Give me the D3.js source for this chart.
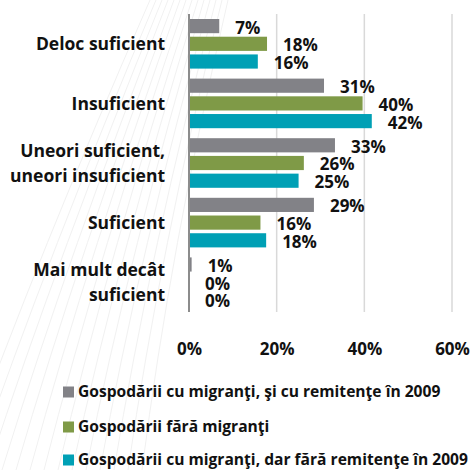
<!DOCTYPE html>
<html><head><meta charset="utf-8">
<script src="https://cdn.jsdelivr.net/npm/d3@7"></script>
<style>
html,body{margin:0;padding:0;background:#fff;}
svg text{font-family:"Open Sans",Lato,sans-serif;font-weight:bold;fill:#111;}
</style></head>
<body>
<svg id="chart" width="471" height="470"></svg>
<script>
const categories = [["Deloc suficient"],["Insuficient"],["Uneori suficient,","uneori insuficient"],["Suficient"],["Mai mult decât","suficient"]];
const seriesNames = ["Gospodării cu migranţi, şi cu remitenţe în 2009","Gospodării fără migranţi","Gospodării cu migranţi, dar fără remitenţe în 2009"];
const withRemit = [6.9, 30.8, 33.3, 28.5, 0.6];
const noMigrants = [17.8, 39.6, 26.2, 16.3, 0];
const noRemit = [15.7, 41.7, 25.0, 17.6, 0];
const labelsWithRemit = ["7%","31%","33%","29%","1%"];
const labelsNoMigrants = ["18%","40%","26%","16%","0%"];
const labelsNoRemit = ["16%","42%","25%","18%","0%"];
const ticks = [0, 0.2, 0.4, 0.6];
const colors = ["#828287","#7f9a47","#00a0b5"];

const series = [withRemit, noMigrants, noRemit];
const seriesLabels = [labelsWithRemit, labelsNoMigrants, labelsNoRemit];

const svg = d3.select("#chart");

// faint decorative background lines
const bg = svg.append("g");
for (let i = 0; i < 14; i++) {
  bg.append("path")
    .attr("d", `M${-40 + i*14},470 Q${40 + i*10},250 ${150 + i*6},0`)
    .attr("fill","none").attr("stroke","#f1f1f1").attr("stroke-width",1);
}

const x = d3.scaleLinear().domain([0, 0.6]).range([189, 452]);
const y0 = d3.scaleBand().domain(d3.range(categories.length)).range([14, 312]).paddingInner(0).paddingOuter(0);
const y1 = d3.scaleBand().domain(d3.range(3)).range([5, y0.bandwidth() - 5]).paddingInner(0.2).paddingOuter(0);

// gridlines
svg.append("g").selectAll("line").data(ticks.slice(1)).join("line")
  .attr("x1", d => x(d)).attr("x2", d => x(d))
  .attr("y1", 14).attr("y2", 312)
  .attr("stroke", "#d9d9d9").attr("stroke-width", 1.5);

// bars
const groups = svg.append("g").selectAll("g").data(categories).join("g")
  .attr("transform", (d, i) => `translate(0,${y0(i)})`);

series.forEach((s, si) => {
  groups.append("rect")
    .attr("x", x(0))
    .attr("y", y1(si))
    .attr("width", (d, i) => x(s[i] / 100) - x(0))
    .attr("height", y1.bandwidth())
    .attr("fill", colors[si]);
  groups.append("text")
    .attr("x", (d, i) => x(s[i] / 100) + 16)
    .attr("y", y1(si) + y1.bandwidth() / 2 + 1.5)
    .attr("dy", "0.35em")
    .attr("font-size", 17)
    .text((d, i) => seriesLabels[si][i]);
});

// category labels
groups.each(function(d) {
  const g = d3.select(this);
  const n = d.length;
  const lh = 25;
  d.forEach((line, li) => {
    g.append("text")
      .attr("x", 165)
      .attr("y", y0.bandwidth() / 2 + (li - (n - 1) / 2) * lh)
      .attr("dy", "0.35em")
      .attr("text-anchor", "end")
      .attr("font-size", 17.5)
      .text(line);
  });
});

// axis line
svg.append("line").attr("x1", x(0)).attr("x2", x(0)).attr("y1", 14).attr("y2", 312)
  .attr("stroke", "#8c8c8c").attr("stroke-width", 2);

// x axis tick labels
const xAxis = d3.axisBottom(x).tickValues(ticks).tickFormat(d3.format(".0%")).tickSize(0).tickPadding(0);
const ax = svg.append("g").attr("transform", "translate(0,343)").call(xAxis);
ax.select(".domain").remove();
ax.selectAll("text").attr("font-size", 17).attr("font-family", "'Open Sans',Lato,sans-serif").attr("font-weight", "bold").attr("fill", "#111");

// legend
const legY = [392, 427, 460];
const leg = svg.append("g").selectAll("g").data(seriesNames).join("g")
  .attr("transform", (d, i) => `translate(63,${legY[i]})`);
leg.append("rect").attr("x", 0).attr("y", -5.5).attr("width", 11).attr("height", 11).attr("fill", (d, i) => colors[i]);
leg.append("text").attr("x", 15).attr("y", 0).attr("dy", "0.35em").attr("font-size", 15.6).text(d => d);
</script>
</body></html>
